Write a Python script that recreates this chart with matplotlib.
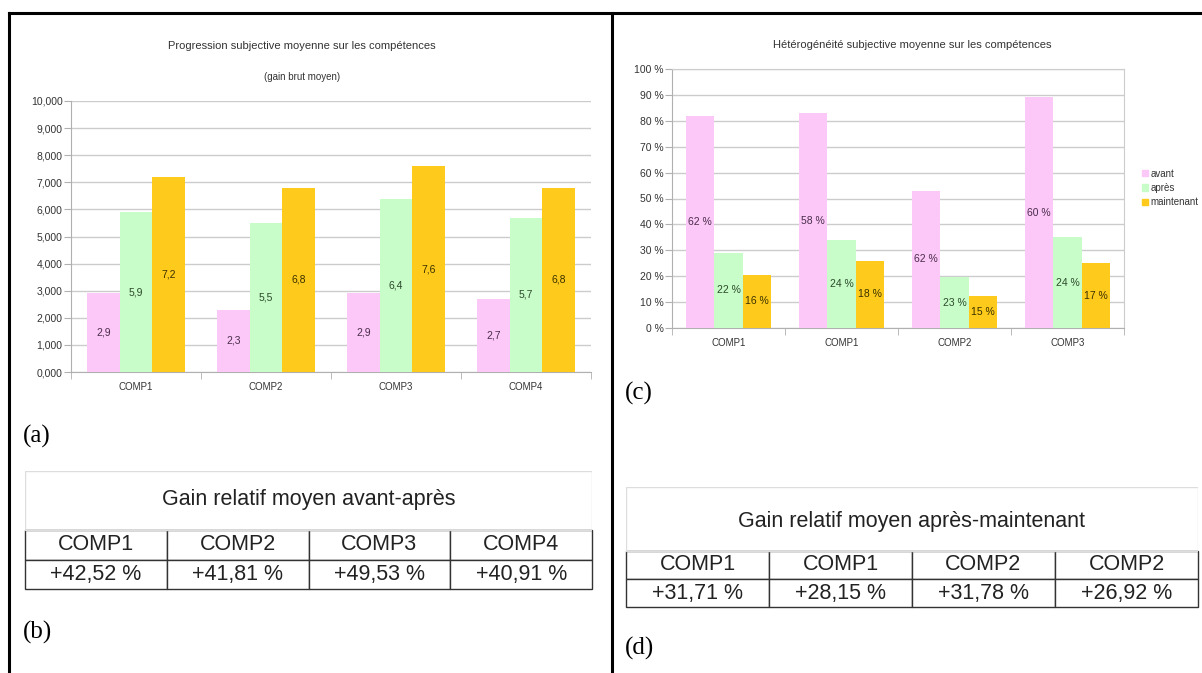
import matplotlib
matplotlib.use("Agg")
import matplotlib.pyplot as plt
from matplotlib.lines import Line2D
from matplotlib.patches import Patch, Rectangle
import numpy as np

# ---- data ----
comp_a = ["COMP1", "COMP2", "COMP3", "COMP4"]
avant_a = [2.9, 2.3, 2.9, 2.7]
apres_a = [5.9, 5.5, 6.4, 5.7]
maint_a = [7.2, 6.8, 7.6, 6.8]

comp_c = ["COMP1", "COMP1", "COMP2", "COMP3"]
avant_c = [82, 83, 53, 89]
apres_c = [29, 34, 19.5, 35]
maint_c = [20.5, 26, 12.5, 25]
avant_c_lab = ["62 %", "58 %", "62 %", "60 %"]
apres_c_lab = ["22 %", "24 %", "23 %", "24 %"]
maint_c_lab = ["16 %", "18 %", "15 %", "17 %"]

series_names = ["avant", "après", "maintenant"]

tab_b_title = "Gain relatif moyen avant-après"
tab_b_head = ["COMP1", "COMP2", "COMP3", "COMP4"]
tab_b_vals = ["+42,52 %", "+41,81 %", "+49,53 %", "+40,91 %"]

tab_d_title = "Gain relatif moyen après-maintenant"
tab_d_head = ["COMP1", "COMP1", "COMP2", "COMP2"]
tab_d_vals = ["+31,71 %", "+28,15 %", "+31,78 %", "+26,92 %"]

colors = ["#fbc8f8", "#c8fcc8", "#fecb1c"]
label_colors = ["#4a2c4a", "#2c4a2c", "#3a3000"]

plt.rcParams["font.family"] = ["Liberation Sans", "DejaVu Sans"]

W, H = 1202, 673
fig = plt.figure(figsize=(W / 100, H / 100), dpi=100)
fig.patch.set_facecolor("white")


def px(x0, y0, x1, y1):
    return [x0 / W, 1 - y1 / H, (x1 - x0) / W, (y1 - y0) / H]


def bar_chart(ax, cats, series, labels, ymax, ystep, fmt):
    x = np.arange(len(cats))
    w = 0.25
    for i, (vals, labs) in enumerate(zip(series, labels)):
        bars = ax.bar(x + (i - 1) * w, vals, w, color=colors[i], zorder=3,
                      label=series_names[i])
        ax.bar_label(bars, labels=labs, label_type="center", fontsize=7.5,
                     color=label_colors[i])
    ax.set_xlim(-0.5, len(cats) - 0.5)
    ax.set_ylim(0, ymax)
    yt = np.arange(0, ymax + ystep / 2, ystep)
    ax.set_yticks(yt)
    ax.set_yticklabels([fmt(v) for v in yt])
    ax.set_xticks(x)
    ax.set_xticklabels(cats)
    ax.set_xticks(np.arange(-0.5, len(cats)), minor=True)
    ax.tick_params(axis="x", which="major", length=0, pad=7, labelsize=7, colors="#333333")
    ax.tick_params(axis="x", which="minor", length=5, color="#b0b0b0", direction="out")
    ax.tick_params(axis="y", length=5, color="#b0b0b0", labelsize=7.5, colors="#333333", pad=1)
    ax.grid(axis="y", color="#cccccc", lw=1, zorder=0)
    for s in ["top", "right"]:
        ax.spines[s].set_visible(False)
    for s in ["left", "bottom"]:
        ax.spines[s].set_color("#b0b0b0")


# ---- (a) ----
ax_a = fig.add_axes(px(71, 101, 591, 372))
bar_chart(ax_a, comp_a, [avant_a, apres_a, maint_a],
          [[f"{v:.1f}".replace(".", ",") for v in s] for s in [avant_a, apres_a, maint_a]],
          10, 1, lambda v: f"{v:.3f}".replace(".", ","))
fig.text(302 / W, 1 - 46 / H, "Progression subjective moyenne sur les compétences",
         ha="center", va="center", fontsize=8, color="#333333")
fig.text(302 / W, 1 - 77 / H, "(gain brut moyen)", ha="center", va="center",
         fontsize=7, color="#333333")

# ---- (c) ----
ax_c = fig.add_axes(px(672, 69, 1124, 328))
bar_chart(ax_c, comp_c, [avant_c, apres_c, maint_c],
          [avant_c_lab, apres_c_lab, maint_c_lab],
          100, 10, lambda v: f"{int(v)} %")
ax_c.spines["top"].set_visible(True)
ax_c.spines["right"].set_visible(True)
ax_c.spines["top"].set_color("#cccccc")
ax_c.spines["right"].set_color("#cccccc")
fig.text(912 / W, 1 - 45 / H, "Hétérogénéité subjective moyenne sur les compétences",
         ha="center", va="center", fontsize=8, color="#333333")
handles = [Patch(color=c) for c in colors]
fig.legend(handles, series_names, loc="center left",
           bbox_to_anchor=(1133 / W, 1 - 188 / H), frameon=False, fontsize=7,
           handlelength=0.6, handleheight=0.6, handletextpad=0.3,
           labelspacing=0.45, labelcolor="#333333")


# ---- tables ----
def table(x0, x1, ytop, ytitle, yrow, ybot, title, head, vals):
    ax = fig.add_axes(px(x0, ytop, x1, ybot))
    ax.set_xlim(x0, x1)
    ax.set_ylim(ybot, ytop)
    ax.axis("off")
    ax.add_patch(Rectangle((x0, ytop), x1 - x0, yrow - ytop, fill=False,
                           ec="#dddddd", lw=1))
    ax.text((x0 + x1) / 2, ytitle, title, ha="center", va="center",
            fontsize=15.5, color="#222222")
    tb = ax.table(cellText=[head, vals], cellLoc="center",
                  bbox=[0, 0, 1, (ybot - yrow) / (ybot - ytop)])
    tb.auto_set_font_size(False)
    for cell in tb.get_celld().values():
        cell.set_edgecolor("#333333")
        cell.set_linewidth(1)
        cell.get_text().set_fontsize(15.5)
        cell.get_text().set_color("#222222")


table(25, 592, 471, 500, 530, 589, tab_b_title, tab_b_head, tab_b_vals)
table(626, 1198, 487, 522, 551, 607, tab_d_title, tab_d_head, tab_d_vals)

# ---- panel letters ----
for lab, x, y in [("(a)", 23, 436), ("(b)", 23, 632), ("(c)", 625, 393), ("(d)", 625, 648)]:
    fig.text(x / W, 1 - y / H, lab, ha="left", va="center", fontsize=18,
             family=["Liberation Serif", "DejaVu Serif"])

# ---- frame ----
for xs, ys in [([9, 1202], [13, 13]), ([9, 9], [13, 673]), ([612, 612], [13, 673])]:
    fig.add_artist(Line2D([x / W for x in xs], [1 - y / H for y in ys],
                          color="black", lw=2.2))

fig.savefig("out.png", dpi=100)
